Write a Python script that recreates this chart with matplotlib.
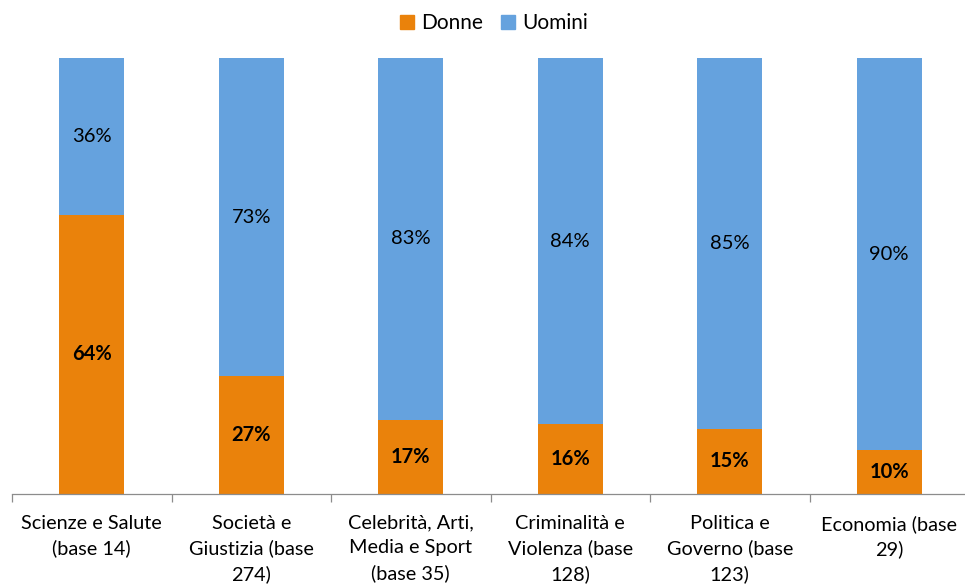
import matplotlib

matplotlib.use("Agg")
import matplotlib.pyplot as plt
import numpy as np
from matplotlib.patches import Patch

plt.rcParams["font.family"] = ["Lato", "DejaVu Sans"]

categories = [
    "Scienze e Salute\n(base 14)",
    "Società e\nGiustizia (base\n274)",
    "Celebrità, Arti,\nMedia e Sport\n(base 35)",
    "Criminalità e\nViolenza (base\n128)",
    "Politica e\nGoverno (base\n123)",
    "Economia (base\n29)",
]
donne = [64, 27, 17, 16, 15, 10]
uomini = [36, 73, 83, 84, 85, 90]

ORANGE = "#EA820B"
BLUE = "#65A2DE"

fig = plt.figure(figsize=(9.65, 5.84), dpi=100)
ax = fig.add_axes([12 / 965, 90 / 584, 957 / 965, 436 / 584])

x = np.arange(len(categories))
width = 0.41
ax.bar(x, donne, width, color=ORANGE, label="Donne")
ax.bar(x, uomini, width, bottom=donne, color=BLUE, label="Uomini")

for xi, d, u in zip(x, donne, uomini):
    ax.text(xi, d / 2, f"{d}%", ha="center", va="center",
            fontsize=14.5, fontweight="bold", color="black")
    ax.text(xi, d + u / 2, f"{u}%", ha="center", va="center",
            fontsize=14.5, color="black")

ax.set_xlim(-0.5, len(categories) - 0.5)
ax.set_ylim(0, 100)
ax.set_yticks([])
for side in ("top", "right", "left"):
    ax.spines[side].set_visible(False)
ax.spines["bottom"].set_color("#8c8c8c")
ax.spines["bottom"].set_linewidth(0.9)

ax.set_xticks(x)
ax.set_xticklabels(categories, fontsize=14.3, linespacing=1.53)
ax.tick_params(axis="x", which="major", length=0, pad=15)
ax.set_xticks(np.arange(len(categories) + 1) - 0.5, minor=True)
ax.tick_params(axis="x", which="minor", length=6, color="#8c8c8c", width=0.9)

handles = [Patch(color=ORANGE, label="Donne"), Patch(color=BLUE, label="Uomini")]
fig.legend(handles=handles, loc="center", bbox_to_anchor=(494 / 965, 1 - 23 / 584),
           ncol=2, frameon=False, fontsize=15, handlelength=0.65, handleheight=0.65,
           handletextpad=0.35, columnspacing=0.9)

fig.savefig("out.png", dpi=100)
